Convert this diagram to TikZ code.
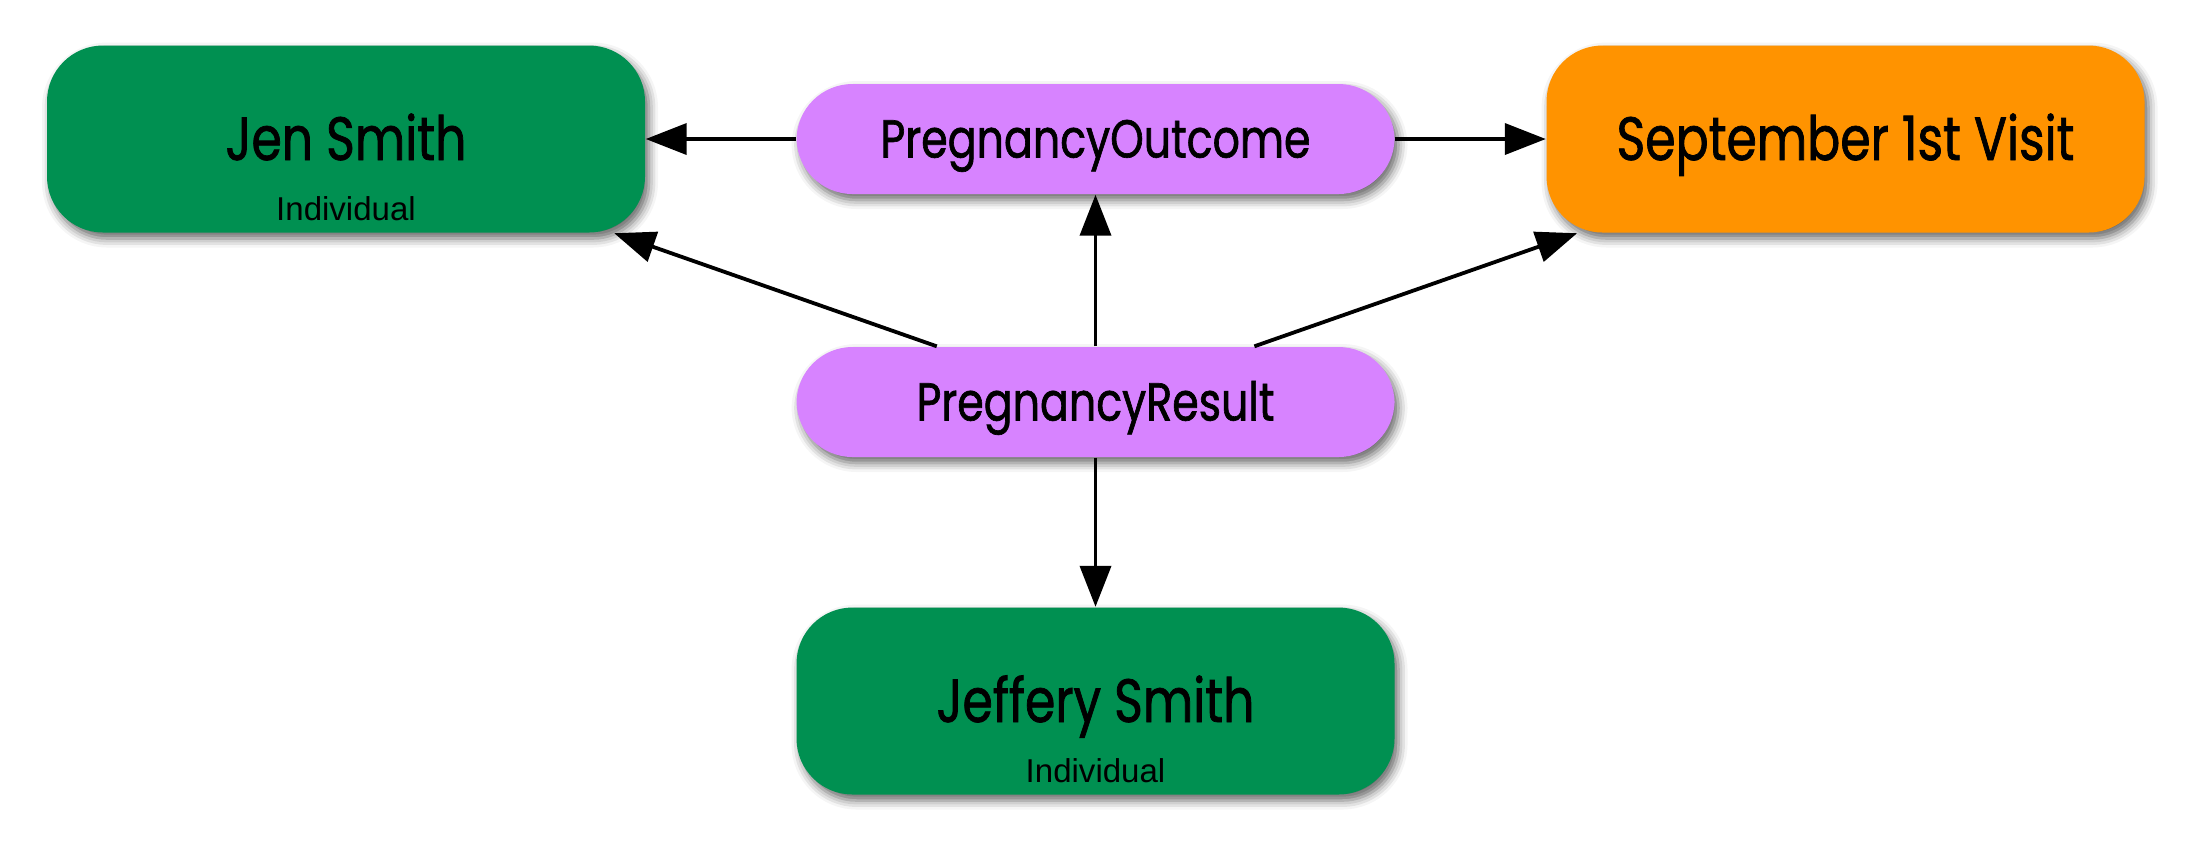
\documentclass[tikz,border=0pt]{standalone}
\usepackage{fontspec}
\usepackage{xcolor}
\usetikzlibrary{arrows.meta,shadows.blur}

\newfontfamily\namefont{Poppins}[FakeStretch=0.80, FakeBold=1.2]
\newfontfamily\rolefont{Liberation Sans}

\definecolor{moss}{HTML}{009051}
\definecolor{tangerine}{HTML}{FF9300}
\definecolor{lavender}{HTML}{D783FF}

\tikzset{
  box/.style={rounded corners=0.56cm, minimum width=5.98cm, text depth=0pt, text height=0.42cm,
    blur shadow={shadow xshift=0.04cm, shadow yshift=-0.06cm, shadow blur radius=0.09cm, shadow opacity=60}},
  bigbox/.style={box, minimum height=1.87cm, font=\namefont\fontsize{17.4}{19}\selectfont},
  pill/.style={box, minimum height=1.10cm, text height=0.37cm, font=\namefont\fontsize{15.2}{17}\selectfont},
  role/.style={anchor=base, font=\rolefont\fontsize{9.4}{10}\selectfont},
  link/.style={-{Triangle[length=4.1mm, width=3.1mm]}, line width=0.038cm}
}

\begin{document}
\begin{tikzpicture}
    \useasboundingbox (0, 0) rectangle (22.12, -8.62);

    \node[bigbox, fill=moss] (jen) at (3.46, -1.39) {Jen Smith};
    \node[role] (jenrole) at ([yshift=0.13cm]jen.south) {Individual};
    \node[pill, fill=lavender] (outcome) at (10.955, -1.39) {PregnancyOutcome};
    \node[bigbox, fill=tangerine] (visit) at (18.455, -1.39) {September 1st Visit};
    \node[pill, fill=lavender] (result) at (10.955, -4.02) {PregnancyResult};
    \node[bigbox, fill=moss] (jeffery) at (10.955, -7.01) {Jeffery Smith};
    \node[role] (jefferyrole) at ([yshift=0.13cm]jeffery.south) {Individual};

    \draw[link] (outcome) -- (jen);
    \draw[link] (outcome) -- (visit);
    \draw[link] (result) -- (outcome);
    \draw[link] (result) -- (jen);
    \draw[link] (result) -- (visit);
    \draw[link] (result) -- (jeffery);
\end{tikzpicture}
\end{document}
